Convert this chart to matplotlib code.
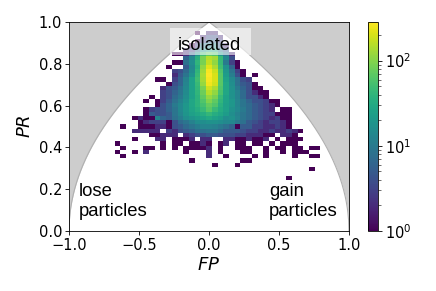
import numpy as np
import matplotlib
matplotlib.use("Agg")
import matplotlib.pyplot as plt
from matplotlib.colors import LogNorm
from matplotlib.patches import Rectangle

N_BINS = 49
VMAX = 284
W, H = 436, 291

# rows of the 2d histogram, PR bin index -> (first FP bin, counts)
ROW_46 = (22, [1, 0, 2, 2])
ROW_45 = (23, [2, 4, 4, 2])
ROW_44 = (22, [1, 3, 6, 6, 3])
ROW_43 = (21, [1, 3, 10, 12, 14, 5, 2])
ROW_42 = (20, [2, 3, 8, 20, 30, 30, 10, 5])
ROW_41 = (18, [1, 1, 2, 6, 20, 50, 70, 60, 20, 8, 2])
ROW_40 = (20, [6, 14, 35, 90, 150, 130, 45, 14, 4])
ROW_39 = (18, [1, 1, 8, 16, 40, 90, 170, 110, 45, 10, 3, 1])
ROW_38 = (17, [1, 0, 0, 5, 14, 35, 110, 220, 140, 50, 18, 6, 1])
ROW_37 = (18, [3, 4, 7, 15, 40, 125, 270, 180, 60, 20, 9, 3, 1])
ROW_36 = (18, [2, 5, 9, 18, 45, 135, 280, 200, 65, 22, 11, 4, 1, 0, 1])
ROW_35 = (15, [1, 1, 0, 3, 6, 12, 25, 50, 130, 270, 200, 65, 26, 15, 8, 4, 3])
ROW_34 = (17, [1, 4, 6, 13, 25, 45, 115, 250, 190, 65, 28, 16, 8, 5, 4, 1])
ROW_33 = (16, [2, 4, 5, 8, 14, 25, 42, 90, 190, 140, 60, 28, 17, 10, 6, 4, 1, 1])
ROW_32 = (16, [3, 4, 6, 9, 15, 26, 40, 80, 150, 110, 55, 28, 18, 12, 7, 4, 2, 1, 1])
ROW_31 = (14, [1, 0, 3, 4, 7, 10, 16, 25, 38, 70, 115, 90, 45, 26, 18, 12, 7, 4, 4, 2, 1])
ROW_30 = (13, [1, 0, 1, 3, 5, 8, 12, 18, 28, 38, 60, 95, 70, 40, 26, 20, 13, 9, 6, 4, 4, 3, 1, 1])
ROW_29 = (15, [1, 4, 6, 10, 14, 20, 28, 38, 52, 75, 60, 36, 24, 20, 13, 9, 7, 5, 4, 3, 2, 1])
ROW_28 = (13, [1, 3, 4, 4, 6, 9, 14, 20, 27, 34, 45, 65, 45, 32, 25, 18, 14, 10, 7, 5, 4, 3, 2, 0, 1, 1])
ROW_27 = (13, [1, 5, 4, 4, 5, 9, 13, 19, 24, 28, 34, 42, 34, 28, 22, 16, 12, 9, 7, 5, 4, 3, 3, 1, 1, 1])
ROW_26 = (11, [1, 2, 1, 1, 12, 6, 5, 8, 11, 16, 19, 22, 26, 30, 26, 22, 16, 18, 13, 9, 7, 5, 4, 3, 2, 3, 1, 1])
ROW_25 = (12, [1, 2, 3, 3, 3, 1, 4, 7, 9, 12, 16, 16, 18, 18, 16, 14, 14, 10, 8, 5, 4, 3, 2, 3, 3, 2, 1])
ROW_24 = (9, [1, 0, 0, 1, 1, 1, 2, 2, 1, 4, 5, 7, 9, 11, 13, 13, 12, 10, 8, 6, 1, 5, 5, 3, 3, 2, 2, 3, 2, 1])
ROW_23 = (11, [2, 2, 2, 2, 2, 0, 3, 2, 4, 5, 6, 8, 8, 9, 9, 7, 5, 5, 5, 4, 3, 3, 2, 2, 3, 2, 2, 3, 2, 1])
ROW_22 = (14, [1, 1, 2, 2, 2, 0, 2, 3, 4, 4, 5, 5, 4, 4, 4, 3, 3, 2, 2, 2, 1, 1, 0, 2, 2, 1])
ROW_21 = (11, [1, 0, 0, 0, 2, 2, 0, 1, 1, 1, 2, 0, 2, 2, 0, 0, 2, 2, 1, 1, 2, 1, 1, 2, 0, 1, 0, 1, 1, 1])
ROW_20 = (8, [1, 0, 0, 0, 0, 0, 0, 0, 1, 0, 1, 1, 0, 1, 1, 2, 1, 0, 1, 2, 0, 1, 1, 0, 1, 1, 0, 1, 0, 1, 1, 1])
ROW_19 = (9, [1, 0, 0, 0, 1, 1, 0, 1, 0, 1, 0, 1, 1, 1, 1, 2, 0, 1, 0, 0, 1, 1, 1, 0, 0, 1, 0, 1, 1, 0, 1, 1, 0, 1, 1])
ROW_18 = (8, [1, 0, 0, 1, 0, 2, 0, 0, 0, 0, 0, 0, 1, 0, 0, 0, 2, 0, 1, 0, 0, 0, 1, 1, 0, 0, 1, 0, 0, 1, 0, 1, 1, 1])
ROW_17 = (9, [1, 0, 0, 0, 0, 0, 0, 0, 0, 0, 0, 0, 0, 0, 0, 2, 0, 0, 1, 0, 0, 0, 0, 1, 0, 1, 0, 0, 0, 0, 1, 0, 0, 1, 1])
ROW_16 = (21, [1, 0, 0, 0, 0, 0, 0, 0, 0, 1, 1])
ROW_15 = (25, [1, 0, 0, 0, 1])
ROW_14 = (42, [1])
ROW_12 = (38, [1])

ROWS = {46: ROW_46, 45: ROW_45, 44: ROW_44, 43: ROW_43, 42: ROW_42, 41: ROW_41,
        40: ROW_40, 39: ROW_39, 38: ROW_38, 37: ROW_37, 36: ROW_36, 35: ROW_35,
        34: ROW_34, 33: ROW_33, 32: ROW_32, 31: ROW_31, 30: ROW_30, 29: ROW_29,
        28: ROW_28, 27: ROW_27, 26: ROW_26, 25: ROW_25, 24: ROW_24, 23: ROW_23,
        22: ROW_22, 21: ROW_21, 20: ROW_20, 19: ROW_19, 18: ROW_18, 17: ROW_17,
        16: ROW_16, 15: ROW_15, 14: ROW_14, 12: ROW_12}

hist = np.zeros((N_BINS, N_BINS))
for j, (start, vals) in ROWS.items():
    hist[j, start:start + len(vals)] = vals
hist = np.ma.masked_equal(hist, 0)

fig = plt.figure(figsize=(W / 100, H / 100), dpi=100)
ax = fig.add_axes([69 / W, 1 - 231 / H, 280 / W, 209 / H])
cax = fig.add_axes([367.5 / W, 1 - 231 / H, 10.5 / W, 209 / H])

# allowed region is bounded by PR = sqrt(1 - |FP|)
fp = np.linspace(-1, 1, 801)
bound = np.sqrt(1 - np.abs(fp))
ax.fill_between(fp, bound, 1, color="#cdcdcd", lw=0, zorder=1)
ax.plot(fp, bound, color="#b0b0b0", lw=0.8, zorder=1)

xedges = np.linspace(-1, 1, N_BINS + 1)
yedges = np.linspace(0, 1, N_BINS + 1)
mesh = ax.pcolormesh(xedges, yedges, hist, cmap="viridis",
                     norm=LogNorm(vmin=1, vmax=VMAX), zorder=2)

ax.set_xlim(-1, 1)
ax.set_ylim(0, 1)
ax.set_xticks([-1, -0.5, 0, 0.5, 1])
ax.set_yticks([0, 0.2, 0.4, 0.6, 0.8, 1.0])
ax.tick_params(labelsize=10.5, width=0.6, length=3, pad=2)
ax.set_xlabel("$FP$", fontsize=13, labelpad=2)
ax.set_ylabel("$PR$", fontsize=13, labelpad=3)
for s in ax.spines.values():
    s.set_linewidth(0.6)

ax.add_patch(Rectangle((-0.279, 0.842), 0.579, 0.129, facecolor="white",
                       edgecolor="none", alpha=0.6, zorder=3))
ax.text(0, 0.888, "isolated", ha="center", va="center", fontsize=13.2,
        family="Liberation Sans", zorder=4)
ax.text(-0.93, 0.055, "lose\nparticles", ha="left", va="bottom", fontsize=13.3,
        family="Liberation Sans", linespacing=1.2, zorder=4)
ax.text(0.43, 0.055, "gain\nparticles", ha="left", va="bottom", fontsize=13.3,
        family="Liberation Sans", linespacing=1.2, zorder=4)

cb = fig.colorbar(mesh, cax=cax)
cb.ax.tick_params(labelsize=10.5, width=0.6, length=3, pad=2)
cb.ax.tick_params(which="minor", width=0.4, length=1.8)
cb.outline.set_linewidth(0.6)

fig.savefig("out.png", dpi=100)
